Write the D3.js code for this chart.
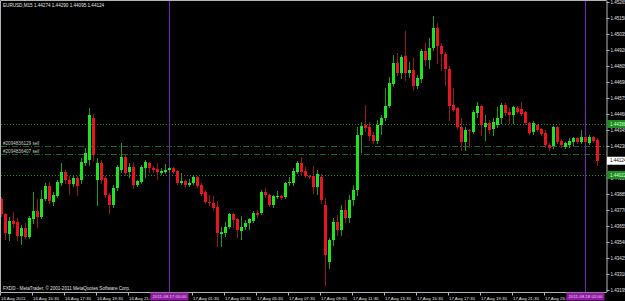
<!DOCTYPE html>
<html>
<head>
<meta charset="utf-8">
<script src="https://cdnjs.cloudflare.com/ajax/libs/d3/7.8.5/d3.min.js"></script>
<style>
  html, body { margin: 0; padding: 0; background: #000; overflow: hidden; }
  text { font-family: "Liberation Sans", Arial, sans-serif; }
</style>
</head>
<body>
<div id="chart"></div>
<script>
// EURUSD M15, 16 Aug 2011 13:30 -> 18 Aug 2011 02:45
const symbolTitle = "EURUSD,M15  1.44274 1.44290 1.44095 1.44124";
const copyright = "FXDD - MetaTrader, \u00a9 2001-2011 MetaQuotes Software Corp.";
const firstBar = new Date(2011, 7, 16, 13, 30);

const open = [
  1.43849, 1.43741, 1.43598, 1.43691, 1.43684, 1.43583, 1.43641, 1.43576, 1.43705, 1.43763,
  1.43720, 1.43849, 1.43943, 1.43828, 1.43871, 1.43964, 1.44043, 1.43986, 1.43957, 1.44000,
  1.43986, 1.44108, 1.44130, 1.44432, 1.43986, 1.44108, 1.44000, 1.43878, 1.43806, 1.43928,
  1.44058, 1.44151, 1.44043, 1.44079, 1.43950, 1.43971, 1.44072, 1.44108, 1.44072, 1.44065,
  1.44036, 1.44043, 1.44058, 1.44072, 1.44051, 1.43964, 1.43979, 1.43950, 1.43964, 1.44007,
  1.43950, 1.43899, 1.43828, 1.43820, 1.43792, 1.43598, 1.43605, 1.43648, 1.43741, 1.43705,
  1.43619, 1.43648, 1.43677, 1.43691, 1.43749, 1.43749, 1.43899, 1.43878, 1.43806, 1.43864,
  1.43871, 1.43864, 1.43964, 1.43964, 1.44043, 1.44108, 1.44051, 1.44015, 1.44015, 1.43935,
  1.44007, 1.43806, 1.43396, 1.43554, 1.43684, 1.43626, 1.43770, 1.43713, 1.43842, 1.43914,
  1.44309, 1.44381, 1.44367, 1.44309, 1.44266, 1.44381, 1.44432, 1.44518, 1.44676, 1.44827,
  1.44755, 1.44877, 1.44755, 1.44777, 1.44662, 1.44712, 1.44913, 1.44849, 1.44935, 1.45079,
  1.44949, 1.44892, 1.44784, 1.44525, 1.44503, 1.44367, 1.44259, 1.44345, 1.44331, 1.44468,
  1.44518, 1.44367, 1.44396, 1.44352, 1.44381, 1.44432, 1.44525, 1.44475, 1.44453, 1.44503,
  1.44496, 1.44475, 1.44396, 1.44331, 1.44381, 1.44352, 1.44324, 1.44237, 1.44230, 1.44367,
  1.44266, 1.44223, 1.44237, 1.44259, 1.44288, 1.44259, 1.44295, 1.44252, 1.44295, 1.44274
];
const high = [
  1.43864, 1.43749, 1.43720, 1.43756, 1.43713, 1.43662, 1.43677, 1.43727, 1.43899, 1.43849,
  1.43914, 1.43964, 1.43971, 1.43899, 1.43986, 1.44108, 1.44058, 1.44015, 1.44022, 1.44015,
  1.44144, 1.44216, 1.44503, 1.44460, 1.44144, 1.44130, 1.44015, 1.43892, 1.43950, 1.44094,
  1.44252, 1.44166, 1.44108, 1.44115, 1.43986, 1.44094, 1.44130, 1.44115, 1.44086, 1.44108,
  1.44072, 1.44101, 1.44079, 1.44079, 1.44058, 1.44036, 1.43986, 1.43993, 1.44015, 1.44015,
  1.43964, 1.43914, 1.43878, 1.43871, 1.43835, 1.43648, 1.43684, 1.43749, 1.43749, 1.43713,
  1.43727, 1.43698, 1.43713, 1.43763, 1.43770, 1.43914, 1.43928, 1.43885, 1.43878, 1.43907,
  1.43878, 1.43971, 1.44007, 1.44072, 1.44122, 1.44151, 1.44079, 1.44022, 1.44086, 1.44058,
  1.44029, 1.43856, 1.43569, 1.43713, 1.43734, 1.43806, 1.43842, 1.43878, 1.43950, 1.44367,
  1.44403, 1.44525, 1.44403, 1.44331, 1.44417, 1.44453, 1.44647, 1.44726, 1.44885, 1.44899,
  1.44885, 1.45057, 1.44834, 1.44863, 1.44741, 1.44928, 1.44971, 1.45007, 1.45165, 1.45115,
  1.44971, 1.44906, 1.44805, 1.44647, 1.44511, 1.44432, 1.44367, 1.44352, 1.44489, 1.44547,
  1.44525, 1.44453, 1.44417, 1.44432, 1.44511, 1.44539, 1.44539, 1.44503, 1.44518, 1.44518,
  1.44547, 1.44482, 1.44403, 1.44410, 1.44388, 1.44360, 1.44345, 1.44252, 1.44374, 1.44374,
  1.44281, 1.44259, 1.44288, 1.44295, 1.44295, 1.44345, 1.44302, 1.44309, 1.44302, 1.44290
];
const low = [
  1.43727, 1.43562, 1.43554, 1.43648, 1.43554, 1.43526, 1.43569, 1.43569, 1.43677, 1.43648,
  1.43713, 1.43842, 1.43820, 1.43806, 1.43864, 1.43950, 1.43964, 1.43885, 1.43943, 1.43878,
  1.43964, 1.44094, 1.44094, 1.44130, 1.43806, 1.43964, 1.43864, 1.43749, 1.43792, 1.43914,
  1.44043, 1.44022, 1.44007, 1.43928, 1.43943, 1.43964, 1.44007, 1.44043, 1.44043, 1.43993,
  1.44029, 1.44036, 1.44051, 1.44036, 1.43957, 1.43957, 1.43935, 1.43943, 1.43957, 1.43935,
  1.43878, 1.43820, 1.43806, 1.43770, 1.43511, 1.43511, 1.43583, 1.43641, 1.43648, 1.43576,
  1.43562, 1.43634, 1.43634, 1.43684, 1.43720, 1.43741, 1.43864, 1.43799, 1.43792, 1.43856,
  1.43849, 1.43856, 1.43950, 1.43950, 1.44036, 1.44022, 1.44007, 1.44000, 1.43892, 1.43885,
  1.43820, 1.43231, 1.43353, 1.43518, 1.43590, 1.43590, 1.43684, 1.43684, 1.43806, 1.43878,
  1.44187, 1.44338, 1.44273, 1.44252, 1.44252, 1.44317, 1.44417, 1.44511, 1.44662, 1.44741,
  1.44719, 1.44705, 1.44726, 1.44633, 1.44647, 1.44690, 1.44813, 1.44791, 1.44920, 1.44827,
  1.44777, 1.44669, 1.44417, 1.44482, 1.44360, 1.44201, 1.44201, 1.44223, 1.44324, 1.44439,
  1.44309, 1.44273, 1.44324, 1.44309, 1.44367, 1.44396, 1.44453, 1.44396, 1.44396, 1.44468,
  1.44453, 1.44388, 1.44317, 1.44317, 1.44338, 1.44309, 1.44223, 1.44201, 1.44216, 1.44252,
  1.44223, 1.44216, 1.44223, 1.44237, 1.44252, 1.44252, 1.44252, 1.44245, 1.44259, 1.44095
];
const close = [
  1.43741, 1.43605, 1.43691, 1.43669, 1.43583, 1.43641, 1.43576, 1.43713, 1.43763, 1.43720,
  1.43849, 1.43943, 1.43835, 1.43878, 1.43971, 1.44043, 1.43986, 1.43957, 1.44000, 1.43943,
  1.44115, 1.44180, 1.44453, 1.44166, 1.44108, 1.43986, 1.43878, 1.43806, 1.43928, 1.44079,
  1.44151, 1.44036, 1.44079, 1.43950, 1.43979, 1.44079, 1.44115, 1.44072, 1.44058, 1.44043,
  1.44051, 1.44058, 1.44072, 1.44043, 1.43964, 1.43979, 1.43950, 1.43964, 1.44007, 1.43943,
  1.43885, 1.43828, 1.43820, 1.43784, 1.43605, 1.43612, 1.43648, 1.43741, 1.43698, 1.43626,
  1.43648, 1.43677, 1.43705, 1.43749, 1.43734, 1.43899, 1.43878, 1.43806, 1.43871, 1.43871,
  1.43856, 1.43964, 1.43971, 1.44051, 1.44108, 1.44043, 1.44015, 1.44007, 1.43935, 1.44029,
  1.43842, 1.43447, 1.43554, 1.43684, 1.43626, 1.43770, 1.43713, 1.43842, 1.43914, 1.44309,
  1.44374, 1.44360, 1.44302, 1.44266, 1.44381, 1.44432, 1.44518, 1.44683, 1.44827, 1.44755,
  1.44870, 1.44755, 1.44777, 1.44662, 1.44719, 1.44913, 1.44849, 1.44935, 1.45079, 1.44949,
  1.44892, 1.44784, 1.44518, 1.44489, 1.44367, 1.44259, 1.44345, 1.44338, 1.44475, 1.44518,
  1.44381, 1.44396, 1.44345, 1.44403, 1.44432, 1.44525, 1.44468, 1.44453, 1.44511, 1.44475,
  1.44460, 1.44396, 1.44324, 1.44396, 1.44345, 1.44317, 1.44237, 1.44216, 1.44367, 1.44259,
  1.44237, 1.44252, 1.44266, 1.44288, 1.44259, 1.44295, 1.44259, 1.44295, 1.44266, 1.44124
];

// labels that the axis markers hide (1.44115, 16 Aug 23:30) are left out
const priceTicks = [1.45265, 1.45150, 1.45035, 1.44920, 1.44805, 1.44690, 1.44575, 1.44460, 1.44345,
                    1.44230, 1.44000, 1.43885, 1.43770, 1.43655, 1.43540, 1.43425, 1.43310, 1.43195];
const timeTicks = ["16 Aug 2011", "16 Aug 15:30", "16 Aug 17:30", "16 Aug 19:30", "16 Aug 21:30",
                   "17 Aug 01:30", "17 Aug 03:30", "17 Aug 05:30", "17 Aug 07:30", "17 Aug 09:30", "17 Aug 11:30",
                   "17 Aug 13:30", "17 Aug 15:30", "17 Aug 17:30", "17 Aug 19:30", "17 Aug 21:30", "17 Aug 23:30"];
const vLines = ["2011.08.17 00:00", "2011.08.18 02:00"];
const levelLines = [1.44388, 1.44022];
const orderLabels = ["#2094836129 sell", "#2094836407 sell"];
const orderPrices = [1.44230, 1.44173];

const W = 625, H = 301;
const plotRight = 606.5, plotBottom = 292.5;
const upBody = "#1ee61e", downBody = "#e8141e", upWick = "#1c9a1c", downWick = "#9c1420";
const textCol = "#e0e0e0", frameCol = "#b4b4b4";

const times = open.map((d, i) => d3.timeMinute.offset(firstBar, 15 * i));
const fmtAxis = d3.timeFormat("%d %b %H:%M"), fmtFirst = d3.timeFormat("%d %b %Y"), fmtObj = d3.timeFormat("%Y.%m.%d %H:%M");
const axisLabel = (t, i) => i === 0 ? fmtFirst(t) : fmtAxis(t);

const svg = d3.select("#chart").append("svg")
    .attr("width", W)
    .attr("height", H)
    .style("display", "block")
    .style("background", "#000");

const x = d3.scaleBand()
    .domain(d3.range(open.length))
    .range([-0.5, 599.5])
    .paddingInner(0)
    .paddingOuter(0);
const cx = i => x(i) + x.bandwidth() / 2;

const y = d3.scaleLinear()
    .domain([1.43195, 1.45265])
    .range([290, 2]);
const py = v => Math.round(y(v));

// vertical lines (objects)
vLines.forEach(function (s) {
    const i = times.findIndex(t => fmtObj(t) === s);
    svg.append("line")
        .attr("x1", cx(i)).attr("x2", cx(i))
        .attr("y1", 1).attr("y2", plotBottom)
        .attr("stroke", "#7b1fc0").attr("stroke-width", 1);
});

// horizontal level lines
levelLines.forEach(function (v) {
    svg.append("line")
        .attr("x1", 1).attr("x2", plotRight)
        .attr("y1", py(v) + 0.5).attr("y2", py(v) + 0.5)
        .attr("stroke", "#1f8f1f").attr("stroke-dasharray", "1,2");
});

// order lines
orderPrices.forEach(function (v, k) {
    svg.append("line")
        .attr("x1", 1).attr("x2", plotRight)
        .attr("y1", py(v) + 0.5).attr("y2", py(v) + 0.5)
        .attr("stroke", "#1b651b").attr("stroke-dasharray", "6,2,1,2");
    svg.append("text")
        .attr("x", 3).attr("y", py(v) - 1)
        .attr("fill", "#c8c8c8").attr("font-size", 4.6)
        .text(orderLabels[k]);
});

// candles
const bars = svg.append("g").selectAll("g")
    .data(open.map((o, i) => ({ i: i, o: o, h: high[i], l: low[i], c: close[i] })))
    .enter().append("g");

bars.append("line")
    .attr("x1", d => cx(d.i)).attr("x2", d => cx(d.i))
    .attr("y1", d => py(d.h)).attr("y2", d => py(d.l) + 1)
    .attr("stroke", d => d.c >= d.o ? upWick : downWick)
    .attr("stroke-width", 1);

bars.append("rect")
    .attr("x", d => x(d.i) + 0.5)
    .attr("width", 3)
    .attr("y", d => py(Math.max(d.o, d.c)))
    .attr("height", d => Math.max(1, py(Math.min(d.o, d.c)) - py(Math.max(d.o, d.c))))
    .attr("fill", d => d.c >= d.o ? upBody : downBody);

// frame
svg.append("path")
    .attr("d", "M" + plotRight + ",0.5H0.5V" + plotBottom)
    .attr("fill", "none").attr("stroke", frameCol);

// price axis
const yAxis = svg.append("g")
    .attr("transform", "translate(" + plotRight + ",0)")
    .call(d3.axisRight(y).tickValues(priceTicks).tickFormat(d3.format(".5f")).tickSize(3).tickPadding(1));
yAxis.select(".domain").attr("stroke", frameCol).attr("d", "M0.5,0.5V" + plotBottom);
yAxis.selectAll(".tick line").attr("stroke", frameCol);
yAxis.selectAll(".tick text")
    .attr("fill", textCol).attr("font-size", 4.5)
    .attr("font-family", "Liberation Sans, Arial, sans-serif");

// time axis
const tickIdx = timeTicks.map(s => times.findIndex((t, i) => axisLabel(t, i) === s));
const xAxis = svg.append("g")
    .attr("transform", "translate(-1," + plotBottom + ")")
    .call(d3.axisBottom(x).tickValues(tickIdx).tickFormat(i => axisLabel(times[i], i)).tickSizeInner(3).tickSizeOuter(0).tickPadding(1));
xAxis.select(".domain").attr("stroke", frameCol).attr("d", "M1.5,0H" + (plotRight + 1));
xAxis.selectAll(".tick line").attr("stroke", frameCol);
xAxis.selectAll(".tick text")
    .attr("fill", textCol).attr("font-size", 4.4)
    .attr("font-family", "Liberation Sans, Arial, sans-serif")
    .attr("text-anchor", "start")
    .attr("x", 0.5);

// price markers on axis
function axisBox(v, fill, color) {
    const g = svg.append("g").attr("transform", "translate(" + (plotRight + 0.5) + "," + y(v) + ")");
    g.append("rect").attr("x", 0).attr("y", -4).attr("width", 19).attr("height", 8).attr("fill", fill);
    g.append("text").attr("x", 3).attr("y", 1.6)
        .attr("fill", color).attr("font-size", 4.5)
        .text(d3.format(".5f")(v));
}
levelLines.forEach(v => axisBox(v, "#1e8c1e", "#d8ffd8"));
axisBox(close[close.length - 1], "#ffffff", "#000000");

// time markers of vertical lines
vLines.forEach(function (s) {
    const i = times.findIndex(t => fmtObj(t) === s);
    const g = svg.append("g").attr("transform", "translate(" + cx(i) + "," + plotBottom + ")");
    g.append("rect").attr("x", -19).attr("y", 0).attr("width", 38).attr("height", 8).attr("fill", "#8e1ea0");
    g.append("text").attr("x", 0).attr("y", 5.6).attr("text-anchor", "middle")
        .attr("fill", "#f2c8f2").attr("font-size", 4.4).text(s);
});

// texts
svg.append("text").attr("x", 3).attr("y", 7)
    .attr("fill", textCol).attr("font-size", 4.6).text(symbolTitle);
svg.append("text").attr("x", 3).attr("y", 290)
    .attr("fill", textCol).attr("font-size", 4.6).text(copyright);
</script>
</body>
</html>
